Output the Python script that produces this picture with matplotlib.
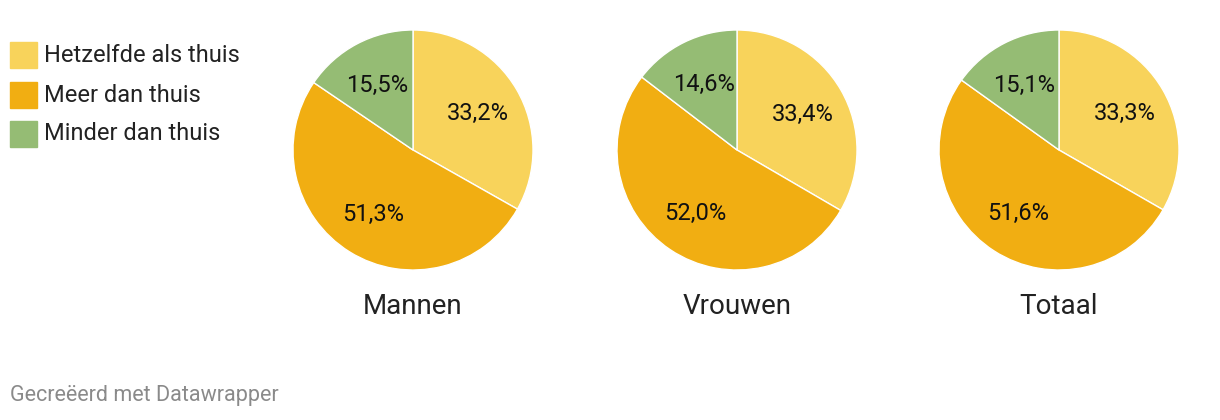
import numpy as np
import matplotlib
matplotlib.use('Agg')
import matplotlib.pyplot as plt
from matplotlib.patches import Rectangle

plt.rcParams['font.family'] = ['Roboto', 'DejaVu Sans']

groups     = ['Mannen', 'Vrouwen', 'Totaal']
categories = ['Hetzelfde als thuis', 'Meer dan thuis', 'Minder dan thuis']
hetzelfde  = [33.2, 33.4, 33.3]
meer       = [51.3, 52.0, 51.6]
minder     = [15.5, 14.6, 15.1]

COLORS = ['#F8D35B', '#F1AE12', '#95BC74']
W, H = 1220, 420
R = 120
CENTERS = [(413, 150), (737, 150), (1059, 150)]

fig = plt.figure(figsize=(W / 100, H / 100), dpi=100)

def fmt(p):
    return f'{p:.1f}%'.replace('.', ',')

for i, (cx, cy) in enumerate(CENTERS):
    ax = fig.add_axes([(cx - R) / W, (H - cy - R) / H, 2 * R / W, 2 * R / H])
    vals = [hetzelfde[i], meer[i], minder[i]]
    wedges, _ = ax.pie(vals, colors=COLORS, startangle=90, counterclock=False,
                       wedgeprops=dict(edgecolor='white', linewidth=1))
    # percentage labels inside the slices
    for w, v in zip(wedges, vals):
        ang = np.deg2rad((w.theta1 + w.theta2) / 2)
        ax.text(0.63 * np.cos(ang), 0.62 * np.sin(ang) - 0.01, fmt(v),
                ha='center', va='center', fontsize=17, color='#111111')
    ax.set_xlim(-1, 1)
    ax.set_ylim(-1, 1)
    ax.set_aspect('equal')
    fig.text(cx / W, 1 - 307 / H, groups[i], ha='center', va='center',
             fontsize=20, color='#222222')

# legend
for j, name in enumerate(categories):
    y = [55, 95, 134][j]
    fig.patches.append(Rectangle((10 / W, 1 - (y + 13) / H), 27 / W, 26 / H,
                                 transform=fig.transFigure, color=COLORS[j]))
    fig.text(44 / W, 1 - y / H, name, ha='left', va='center', fontsize=17,
             color='#222222')

fig.text(10 / W, 1 - 396 / H, 'Gecreëerd met Datawrapper', ha='left',
         va='center', fontsize=15.5, color='#8a8a8a')

fig.savefig('out.png', dpi=100)
